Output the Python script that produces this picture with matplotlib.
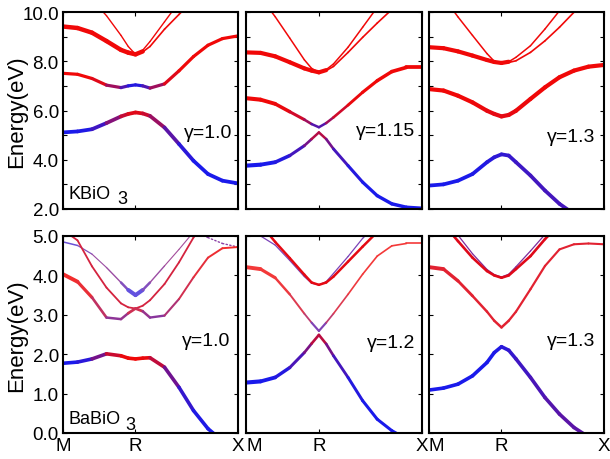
import numpy as np
import matplotlib
matplotlib.use("Agg")
import matplotlib.pyplot as plt
from matplotlib.collections import LineCollection
from matplotlib.ticker import MultipleLocator, FormatStrFormatter

nan = np.nan

# ---------------- data ----------------
K_TICKS = [0.0, 0.5, 1.2071]
K_LABELS = ["M", "R", "X"]
K = [0, 0.1, 0.2, 0.3, 0.4, 0.45, 0.5, 0.55, 0.6, 0.7, 0.8, 0.9, 1.0, 1.1, 1.2071]

GAMMA_LABELS = ["γ=1.0", "γ=1.15", "γ=1.3", "γ=1.0", "γ=1.2", "γ=1.3"]
COMPOUNDS = ["KBiO", "BaBiO"]
YLIMS = [(2.0, 10.0), (0.0, 5.0)]

# Panel 1: KBiO3, gamma = 1.0
P1_A = [5.11, 5.15, 5.24, 5.49, 5.76, 5.86, 5.92, 5.88, 5.78, 5.31, 4.64, 3.96, 3.42, 3.15, 3.04]
P1_A_W = [1, 1, 0.95, 0.7, 0.3, 0.1, 0.05, 0.1, 0.25, 0.55, 0.85, 1, 1, 1, 1]
P1_B = [7.51, 7.47, 7.30, 7.03, 6.93, 7.00, 7.04, 7.00, 6.91, 7.08, 7.61, 8.19, 8.65, 8.92, 9.03]
P1_B_W = [0, 0, 0, 0.15, 0.6, 0.9, 1, 0.9, 0.6, 0.15, 0, 0, 0, 0, 0]
P1_C = [9.41, 9.35, 9.16, 8.82, 8.46, 8.35, 8.28, 8.40, nan, nan, nan, nan, nan, nan, nan]
P1_D = [nan, nan, 10.5, 9.85, 9.05, 8.60, 8.28, 8.45, 8.80, 9.60, 10.4, nan, nan, nan, nan]
P1_E = [nan, nan, nan, nan, nan, nan, 8.28, 8.38, 8.60, 9.30, 9.90, 10.5, nan, nan, nan]

# Panel 2: KBiO3, gamma = 1.15
P2_A = [3.76, 3.80, 3.90, 4.17, 4.57, 4.84, 5.11, 4.84, 4.44, 3.76, 3.09, 2.54, 2.21, 2.07, 2.03]
P2_A_W = [1, 1, 1, 0.9, 0.7, 0.45, 0.1, 0.45, 0.7, 0.9, 1, 1, 1, 1, 1]
P2_B = [6.50, 6.44, 6.27, 5.95, 5.63, 5.45, 5.32, 5.49, 5.72, 6.22, 6.74, 7.21, 7.58, 7.75, 7.75]
P2_B_W = [0, 0, 0, 0.05, 0.25, 0.5, 0.95, 0.5, 0.25, 0.05, 0, 0, 0, 0, 0]
P2_C = [8.36, 8.34, 8.20, 7.96, 7.71, 7.62, 7.55, 7.64, nan, nan, nan, nan, nan, nan, nan]
P2_D = [nan, 10.6, 9.81, 8.94, 8.06, 7.71, 7.55, 7.66, 7.89, 8.57, 9.38, 10.19, nan, nan, nan]
P2_E = [nan, nan, nan, nan, nan, nan, 7.55, 7.62, 7.79, 8.36, 8.97, 9.55, 10.1, nan, nan]

# Panel 3: KBiO3, gamma = 1.3
P3_A = [2.95, 3.00, 3.15, 3.42, 3.90, 4.10, 4.22, 4.17, 3.90, 3.36, 2.75, 2.21, 1.80, 1.60, 1.50]
P3_A_W = [1, 1, 1, 1, 0.95, 0.92, 0.9, 0.88, 0.85, 0.82, 0.8, 0.8, 0.8, 0.8, 0.8]
P3_B = [6.87, 6.81, 6.60, 6.33, 5.99, 5.86, 5.76, 5.82, 5.99, 6.47, 6.94, 7.35, 7.62, 7.78, 7.85]
P3_B_W = [0, 0, 0, 0, 0.03, 0.05, 0.05, 0.05, 0.03, 0, 0, 0, 0, 0, 0]
P3_C = [8.57, 8.53, 8.40, 8.23, 8.05, 7.97, 7.93, 7.98, nan, nan, nan, nan, nan, nan, nan]
P3_D = [nan, 10.6, 9.80, 9.05, 8.31, 8.00, 7.93, 7.98, 8.16, 8.63, 9.31, 10.05, nan, nan, nan]
P3_E = [nan, nan, nan, nan, nan, nan, 7.93, 7.95, 8.02, 8.36, 8.83, 9.38, 9.99, 10.5, nan]

# Panel 4: BaBiO3, gamma = 1.0
P4_A = [1.77, 1.80, 1.88, 2.01, 1.96, 1.90, 1.88, 1.90, 1.91, 1.67, 1.16, 0.57, 0.11, -0.20, -0.40]
P4_A_W = [1, 1, 0.85, 0.3, 0.05, 0, 0, 0, 0.05, 0.4, 0.8, 0.95, 1, 1, 1]
P4_B = [4.03, 3.84, 3.44, 2.93, 2.89, 3.04, 3.16, 3.09, 2.93, 2.98, 3.40, 3.95, 4.45, 4.69, 4.72]
P4_B_W = [0, 0, 0.1, 0.45, 0.65, 0.35, 0.05, 0.35, 0.65, 0.5, 0.25, 0.1, 0.05, 0, 0]
P4_C = [5.15, 4.89, 4.23, 3.69, 3.29, 3.19, 3.16, 3.23, 3.37, 3.78, 4.33, 4.96, 5.50, nan, nan]
P4_D = [4.85, 4.76, 4.54, 4.20, 3.82, 3.63, 3.50, 3.63, 3.82, 4.24, 4.66, 5.10, nan, nan, nan]
P4_D_W = [0.9, 0.8, 0.6, 0.5, 0.6, 0.8, 1, 0.8, 0.6, 0.5, 0.5, 0.5, 0.5, 0.5, 0.5]
P4_F = [nan, nan, nan, nan, nan, nan, nan, nan, nan, nan, nan, 5.15, 4.96, 4.81, 4.72]

# Panel 5: BaBiO3, gamma = 1.2
P5_A = [1.28, 1.31, 1.41, 1.66, 2.04, 2.27, 2.49, 2.26, 1.96, 1.41, 0.82, 0.35, 0.06, -0.15, -0.20]
P5_A_W = [1, 1, 1, 0.9, 0.65, 0.45, 0.05, 0.45, 0.7, 0.9, 1, 1, 1, 1, 1]
P5_B = [4.21, 4.16, 3.94, 3.52, 3.03, 2.80, 2.59, 2.80, 3.03, 3.52, 4.03, 4.49, 4.75, 4.81, 4.81]
P5_B_W = [0, 0, 0, 0.05, 0.2, 0.4, 0.95, 0.4, 0.2, 0.05, 0, 0, 0, 0, 0]
P5_C = [nan, 5.30, 4.85, 4.44, 4.02, 3.82, 3.76, 3.82, 3.97, 4.35, 4.73, 5.10, nan, nan, nan]
P5_D = [5.20, 5.00, 4.77, 4.38, 3.97, 3.80, 3.76, 3.84, 4.05, 4.48, 4.94, 5.30, nan, nan, nan]

# Panel 6: BaBiO3, gamma = 1.3
P6_A = [1.09, 1.14, 1.24, 1.45, 1.79, 2.04, 2.19, 2.10, 1.88, 1.41, 0.90, 0.48, 0.14, -0.10, -0.20]
P6_A_W = [1, 1, 1, 1, 1, 1, 0.95, 0.9, 0.85, 0.8, 0.75, 0.7, 0.7, 0.7, 0.7]
P6_B = [4.21, 4.16, 3.86, 3.48, 3.08, 2.85, 2.68, 2.85, 3.08, 3.65, 4.24, 4.66, 4.79, 4.81, 4.79]
P6_C = [nan, 5.30, 4.87, 4.45, 4.11, 4.00, 3.94, 4.00, 4.16, 4.49, 4.92, 5.30, nan, nan, nan]
P6_D = [nan, 5.45, 5.02, 4.55, 4.15, 4.02, 3.96, 4.03, 4.22, 4.62, 5.04, 5.40, nan, nan, nan]

# ---------------- styling helpers ----------------
RED = np.array([0.94, 0.03, 0.03])
BLUE = np.array([0.10, 0.10, 0.92])
WHITE = np.ones(3)


def band(e, w=0.0, lw=2.0, fade=1.0, ls="-"):
    return dict(e=e, w=w, lw=lw, fade=fade, ls=ls)


PANELS = [
    [band(P1_D, 0, 1.0), band(P1_E, 0, 1.2), band(P1_B, P1_B_W, 2.3),
     band(P1_A, P1_A_W, 2.7), band(P1_C, 0, 3.2)],
    [band(P2_D, 0, 1.1), band(P2_E, 0, 1.2), band(P2_C, 0, 3.0),
     band(P2_B, P2_B_W, [3.0, 2.9, 2.7, 2.4, 2.0, 1.8, 1.8, 1.8, 1.8, 2.0, 2.2, 2.4, 2.6, 2.7, 2.7]),
     band(P2_A, P2_A_W, [3.0, 2.9, 2.7, 2.4, 2.0, 1.8, 1.8, 1.8, 2.0, 2.2, 2.3, 2.4, 2.5, 2.5, 2.5])],
    [band(P3_D, 0, 1.1), band(P3_E, 0, 1.2), band(P3_C, 0, 3.0),
     band(P3_B, P3_B_W, 3.0), band(P3_A, P3_A_W, 2.7)],
    [band(P4_F, 0.6, 1.0, 0.8, ":"),
     band(P4_D, P4_D_W, [1.2, 1.0, 0.8, 0.8, 1.2, 2.4, 3.4, 2.4, 1.2, 0.8, 0.8, 0.8, 0.8, 0.8, 0.8], 0.75),
     band(P4_C, 0.15, 1.3, 0.9),
     band(P4_B, P4_B_W, [3.0, 2.6, 2.0, 1.8, 1.8, 1.8, 2.2, 1.8, 1.8, 1.6, 1.4, 1.4, 1.4, 1.4, 1.4], 0.85),
     band(P4_A, P4_A_W, 2.6)],
    [band(P5_D, 0.7, 0.9, 0.8), band(P5_C, 0.05, 1.8),
     band(P5_B, P5_B_W, [3.0, 2.6, 2.0, 1.5, 1.3, 1.3, 1.8, 1.3, 1.2, 1.2, 1.2, 1.2, 1.2, 1.2, 1.2], 0.8),
     band(P5_A, P5_A_W, [3.0, 2.9, 2.6, 2.3, 2.0, 1.9, 1.9, 1.9, 2.0, 2.1, 2.2, 2.2, 2.2, 2.2, 2.2])],
    [band(P6_D, 0.6, 0.9, 0.9), band(P6_C, 0.08, 1.9),
     band(P6_B, 0.08, [3.0, 2.6, 2.2, 1.9, 1.7, 1.7, 1.9, 1.7, 1.6, 1.6, 1.6, 1.5, 1.5, 1.5, 1.5], 0.9),
     band(P6_A, P6_A_W, 2.6)],
]

GAMMA_POS = [(0.965, 0.39), (0.96, 0.40), (0.95, 0.37), (0.955, 0.47), (0.96, 0.46), (0.95, 0.47)]
COMP_POS = [((0.03, 0.054), (0.31, 0.028)), ((0.03, 0.049), (0.355, 0.020))]


def draw_band(ax, spec):
    k = np.asarray(K, float)
    e = np.asarray(spec["e"], float)
    w = np.broadcast_to(np.asarray(spec["w"], float), k.shape)
    lw = np.broadcast_to(np.asarray(spec["lw"], float), k.shape)
    fade = spec["fade"]
    segs, cols, lws = [], [], []
    for i in range(len(k) - 1):
        if np.isnan(e[i]) or np.isnan(e[i + 1]):
            continue
        segs.append([(k[i], e[i]), (k[i + 1], e[i + 1])])
        wm = 0.5 * (w[i] + w[i + 1])
        c = (1 - wm) * RED + wm * BLUE
        c = fade * c + (1 - fade) * WHITE
        cols.append(tuple(c))
        lws.append(0.5 * (lw[i] + lw[i + 1]))
    lc = LineCollection(segs, colors=cols, linewidths=lws, linestyles=spec["ls"],
                        capstyle="round", joinstyle="round")
    ax.add_collection(lc)


plt.rcParams["font.family"] = ["Liberation Sans", "DejaVu Sans"]

fig = plt.figure(figsize=(6.10, 4.60), dpi=100)
lefts = [63 / 610, 246 / 610, 429 / 610]
widths = [175 / 610, 176 / 610, 175 / 610]
bottoms = [1 - 210 / 460, 1 - 434 / 460]
height = 197 / 460

for idx in range(6):
    row, col = divmod(idx, 3)
    ax = fig.add_axes([lefts[col], bottoms[row], widths[col], height])
    for spec in PANELS[idx]:
        draw_band(ax, spec)
    ax.set_xlim(K_TICKS[0], K_TICKS[-1])
    ax.set_ylim(*YLIMS[row])
    ax.set_xticks(K_TICKS)
    if row == 1:
        labs = ax.set_xticklabels(K_LABELS, fontsize=13.5)
        if col > 0:
            labs[0].set_ha("left")
    else:
        ax.set_xticklabels([])
    if row == 0:
        ax.yaxis.set_major_locator(MultipleLocator(2))
        ax.yaxis.set_minor_locator(MultipleLocator(1))
    else:
        ax.yaxis.set_major_locator(MultipleLocator(1))
    ax.yaxis.set_major_formatter(FormatStrFormatter("%.1f"))
    ax.tick_params(which="both", direction="in", top=True, right=True,
                   length=3, width=0.8, labelsize=13.5, pad=3)
    if col != 0:
        ax.set_yticklabels([])
    else:
        ax.set_ylabel("Energy(eV)", fontsize=16)
        ax.yaxis.set_label_coords(-0.203, 0.5)
    for s in ax.spines.values():
        s.set_linewidth(1.5)
    gx, gy = GAMMA_POS[idx]
    ax.text(gx, gy, GAMMA_LABELS[idx], transform=ax.transAxes, ha="right",
            va="center", fontsize=14)
    if col == 0:
        (cx, cy), (sx, sy) = COMP_POS[row]
        ax.text(cx, cy, COMPOUNDS[row], transform=ax.transAxes, ha="left",
                va="baseline", fontsize=13)
        ax.text(sx, sy, "3", transform=ax.transAxes, ha="left",
                va="baseline", fontsize=13)

fig.savefig("out.png", dpi=100)
